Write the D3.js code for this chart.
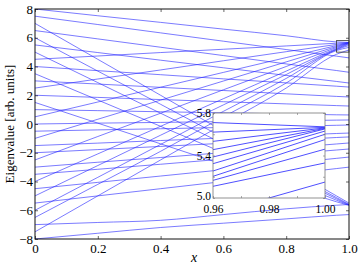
<!DOCTYPE html>
<html><head><meta charset="utf-8">
<script src="https://cdn.jsdelivr.net/npm/d3@7"></script>
<style>
body{margin:0;background:#fff}
svg{display:block}
text{font-family:"Liberation Serif","Times New Roman",serif;fill:#000}
</style>
</head><body>
<script>
// sample positions along x for every eigenvalue curve
const xGrid = [0, 0.2, 0.4, 0.6, 0.8, 0.96, 1.0];
// eigenvalue curves (values at xGrid)
const levels = [
  [8, 7.53, 7.07, 6.6, 6.14, 5.71, 5.67],
  [4.5, 4.73, 4.97, 5.2, 5.43, 5.62, 5.665],
  [2.5, 3.13, 3.76, 4.4, 5.03, 5.533, 5.66],
  [0.5, 1.53, 2.56, 3.59, 4.62, 5.455, 5.655],
  [-1, 0.33, 1.66, 2.99, 4.32, 5.386, 5.65],
  [-2.5, -0.87, 0.75, 2.38, 4.0, 5.323, 5.63],
  [-4, -2.08, -0.16, 1.76, 3.68, 5.254, 5.6],
  [-5, -2.89, -0.78, 1.33, 3.44, 5.204, 5.55],
  [-6, -3.71, -1.42, 0.88, 3.17, 5.166, 5.46],
  [-6.5, -4.2, -1.9, 0.5, 2.85, 5.11, 5.33],
  [-7.5, -5.0, -2.5, 0, 2.5, 4.85, 5.15],
  [7, 4.5, 2.0, -0.5, -3.0, -5.0, -5.5],
  [6, 3.68, 1.37, -0.95, -3.26, -5.12, -5.58],
  [5, 2.88, 0.75, -1.37, -3.5, -5.2, -5.62],
  [3.5, 1.67, -0.16, -2.0, -3.83, -5.3, -5.64],
  [1.5, 0.06, -1.38, -2.82, -4.26, -5.41, -5.66],
  [-7, -6.85, -6.7, -6.3, -5.9, -5.65, -5.6],
  [7.5, 6.92, 6.34, 5.76, 5.18, 4.72, 4.6],
  [6.5, 5.92, 5.34, 4.76, 4.18, 3.72, 3.6],
  [5.5, 4.97, 4.44, 3.91, 3.38, 2.96, 2.85],
  [4, 3.71, 3.43, 3.14, 2.86, 2.63, 2.57],
  [3, 2.78, 2.55, 2.33, 2.1, 1.92, 1.88],
  [2, 1.85, 1.7, 1.55, 1.4, 1.28, 1.25],
  [1, 0.93, 0.85, 0.78, 0.7, 0.64, 0.63],
  [0, 0.06, 0.11, 0.17, 0.22, 0.27, 0.28],
  [-0.5, -0.41, -0.33, -0.24, -0.16, -0.09, -0.07],
  [-1.5, -1.33, -1.15, -0.98, -0.8, -0.66, -0.63],
  [-2, -1.78, -1.56, -1.34, -1.12, -0.94, -0.9],
  [-3, -2.66, -2.33, -1.99, -1.66, -1.39, -1.32],
  [-3.5, -3.15, -2.8, -2.44, -2.09, -1.81, -1.74],
  [-4.5, -4.06, -3.62, -3.18, -2.74, -2.39, -2.3],
  [-5.5, -5.0, -4.5, -4.0, -3.5, -3.1, -3.0],
  [-8, -7.6, -7.2, -6.9, -6.6, -6.35, -6.3]
];
const xTicks = [0, 0.2, 0.4, 0.6, 0.8, 1.0];
const xTickLabels = ["0", "0.2", "0.4", "0.6", "0.8", "1.0"];
const yTicks = [-8, -6, -4, -2, 0, 2, 4, 6, 8];
const yTickLabels = ["\u22128", "\u22126", "\u22124", "\u22122", "0", "2", "4", "6", "8"];
const insetXTicks = [0.96, 0.97, 0.98, 0.99, 1.0];
const insetXTickLabels = ["0.96", "", "0.98", "", "1.00"];
const insetYTicks = [5.0, 5.2, 5.4, 5.6, 5.8];
const insetYTickLabels = ["5.0", "", "5.4", "", "5.8"];
const xDomain = [0, 1], yDomain = [-8, 8];
const insetXDomain = [0.96, 1.0], insetYDomain = [5.0, 5.8];
const xLabel = "x", yLabel = "Eigenvalue [arb. units]";

const W = 360, H = 263;
const svg = d3.select("body").append("svg").attr("width", W).attr("height", H);

const M = {l: 35, r: 349, t: 9, b: 239};
const x = d3.scaleLinear().domain(xDomain).range([M.l, M.r]);
const y = d3.scaleLinear().domain(yDomain).range([M.b, M.t]);

const lineColor = "#2222ff";
const defs = svg.append("defs");
defs.append("clipPath").attr("id", "clipMain").append("rect")
  .attr("x", M.l).attr("y", M.t).attr("width", M.r - M.l).attr("height", M.b - M.t);

const pts = levels.map(v => v.map((val, i) => [xGrid[i], val]));

const lineMain = d3.line().x(d => x(d[0])).y(d => y(d[1])).curve(d3.curveMonotoneX);
svg.append("g").attr("clip-path", "url(#clipMain)")
  .selectAll("path").data(pts).join("path")
  .attr("d", lineMain).attr("fill", "none")
  .attr("stroke", lineColor).attr("stroke-width", 0.6);

const FS = 13;
function styleAxis(g){
  g.attr("font-family", null).attr("font-size", null);
  g.select(".domain").remove();
  g.selectAll("line").attr("stroke", "#000").attr("stroke-width", 0.6);
  g.selectAll("text").style("font-size", FS + "px");
}
svg.append("g").attr("transform", `translate(0,${M.b})`)
  .call(d3.axisBottom(x).tickValues(xTicks).tickSize(-3).tickPadding(5)
    .tickFormat((d, i) => xTickLabels[i]))
  .call(styleAxis);
svg.append("g").attr("transform", `translate(0,${M.t})`)
  .call(d3.axisTop(x).tickValues(xTicks).tickSize(-3).tickFormat(""))
  .call(styleAxis);
svg.append("g").attr("transform", `translate(${M.l},0)`)
  .call(d3.axisLeft(y).tickValues(yTicks).tickSize(-3).tickPadding(2)
    .tickFormat((d, i) => yTickLabels[i]))
  .call(styleAxis);
svg.append("g").attr("transform", `translate(${M.r},0)`)
  .call(d3.axisRight(y).tickValues(yTicks).tickSize(-3).tickFormat(""))
  .call(styleAxis);
svg.append("rect").attr("x", M.l).attr("y", M.t).attr("width", M.r - M.l).attr("height", M.b - M.t)
  .attr("fill", "none").attr("stroke", "#111").attr("stroke-width", 1);

// zoom box on main plot
svg.append("rect")
  .attr("x", x(insetXDomain[0])).attr("y", y(insetYDomain[1]))
  .attr("width", x(insetXDomain[1]) - x(insetXDomain[0]))
  .attr("height", y(insetYDomain[0]) - y(insetYDomain[1]))
  .attr("fill", "none").attr("stroke", "#333").attr("stroke-width", 0.8);

// labels
svg.append("text").attr("x", 194).attr("y", 261.5)
  .attr("text-anchor", "middle").style("font-size", "14px").attr("font-style", "italic").text(xLabel);
svg.append("text").attr("transform", `translate(13.5,${(M.t + M.b) / 2}) rotate(-90)`)
  .attr("text-anchor", "middle").style("font-size", "13px").text(yLabel);

// inset
const I = {l: 213, r: 325, t: 113, b: 198};
const xi = d3.scaleLinear().domain(insetXDomain).range([I.l, I.r]);
const yi = d3.scaleLinear().domain(insetYDomain).range([I.b, I.t]);
svg.append("rect").attr("x", I.l).attr("y", I.t).attr("width", I.r - I.l).attr("height", I.b - I.t)
  .attr("fill", "#fff");
defs.append("clipPath").attr("id", "clipInset").append("rect")
  .attr("x", I.l).attr("y", I.t).attr("width", I.r - I.l).attr("height", I.b - I.t);
const lineInset = d3.line().x(d => xi(d[0])).y(d => yi(d[1]));
svg.append("g").attr("clip-path", "url(#clipInset)")
  .selectAll("path").data(pts.map(p => p.slice(5))).join("path")
  .attr("d", lineInset).attr("fill", "none")
  .attr("stroke", lineColor).attr("stroke-width", 0.8);

const IFS = 11.5;
function styleInset(g){
  g.attr("font-family", null).attr("font-size", null);
  g.select(".domain").remove();
  g.selectAll("line").attr("stroke", "#777").attr("stroke-width", 0.6);
  g.selectAll("text").style("font-size", IFS + "px");
}
svg.append("g").attr("transform", `translate(0,${I.b})`)
  .call(d3.axisBottom(xi).tickValues(insetXTicks).tickSize(-2).tickPadding(6.5)
    .tickFormat((d, i) => insetXTickLabels[i]))
  .call(styleInset);
svg.append("g").attr("transform", `translate(0,${I.t})`)
  .call(d3.axisTop(xi).tickValues(insetXTicks).tickSize(-2).tickFormat(""))
  .call(styleInset);
svg.append("g").attr("transform", `translate(${I.l},0)`)
  .call(d3.axisLeft(yi).tickValues(insetYTicks).tickSize(-2).tickPadding(2)
    .tickFormat((d, i) => insetYTickLabels[i]))
  .call(styleInset)
  .call(g => g.selectAll("text").filter(d => d === 5.0).attr("dy", "0.15em"));
svg.append("g").attr("transform", `translate(${I.r},0)`)
  .call(d3.axisRight(yi).tickValues(insetYTicks).tickSize(-2).tickFormat(""))
  .call(styleInset);
svg.append("rect").attr("x", I.l).attr("y", I.t).attr("width", I.r - I.l).attr("height", I.b - I.t)
  .attr("fill", "none").attr("stroke", "#777").attr("stroke-width", 0.8);
</script>
</body></html>
